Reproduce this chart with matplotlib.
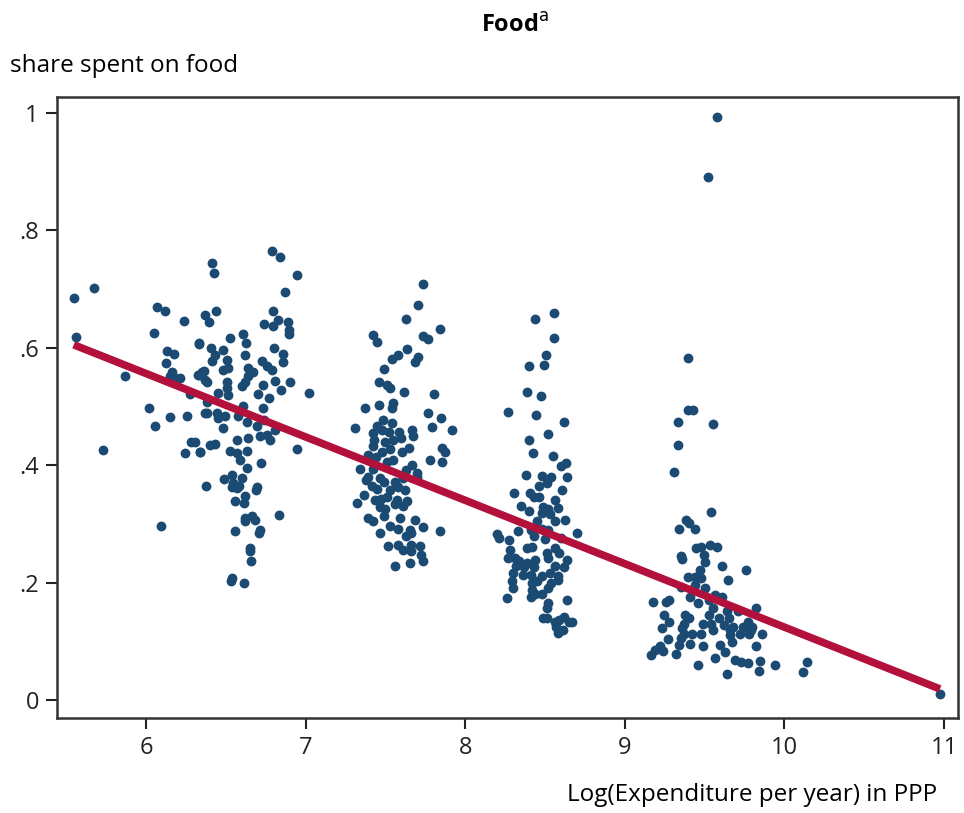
import numpy as np
import matplotlib.pyplot as plt

plt.rcParams['font.family'] = ['Open Sans', 'DejaVu Sans']

# household points, grouped by the four expenditure clusters: (log expenditure, food share)
group1 = [
    (5.547, 0.685), (5.676, 0.701), (5.563, 0.619), (6.069, 0.670), (6.117, 0.663),
    (6.240, 0.646), (6.050, 0.625), (6.330, 0.606), (6.132, 0.595), (6.174, 0.589),
    (6.127, 0.574), (6.163, 0.559), (6.152, 0.551), (6.184, 0.548), (6.215, 0.548),
    (5.867, 0.552), (6.330, 0.554), (6.361, 0.561), (6.370, 0.545), (6.278, 0.521),
    (6.019, 0.497), (6.152, 0.482), (6.257, 0.484), (6.056, 0.466), (6.372, 0.488),
    (6.282, 0.439), (6.246, 0.420), (6.340, 0.422), (5.731, 0.426), (6.096, 0.297),
    (6.378, 0.365),
    (6.792, 0.764), (6.840, 0.755), (6.412, 0.744), (6.428, 0.727), (6.948, 0.724),
    (6.871, 0.694), (6.439, 0.663), (6.370, 0.655), (6.395, 0.643), (6.798, 0.663),
    (6.741, 0.641), (6.798, 0.637), (6.829, 0.647), (6.888, 0.644), (6.898, 0.630),
    (6.898, 0.624), (6.610, 0.624), (6.625, 0.608), (6.526, 0.616), (6.332, 0.608),
    (6.407, 0.599), (6.485, 0.596), (6.432, 0.588), (6.620, 0.588), (6.802, 0.599),
    (6.860, 0.590), (6.860, 0.575), (6.725, 0.577), (6.756, 0.569), (6.788, 0.562),
    (6.505, 0.579), (6.516, 0.565), (6.485, 0.562), (6.412, 0.577), (6.353, 0.559),
    (6.324, 0.554), (6.380, 0.542), (6.641, 0.565), (6.672, 0.559), (6.641, 0.551),
    (6.620, 0.542), (6.599, 0.534), (6.505, 0.542), (6.505, 0.531), (6.453, 0.522),
    (6.516, 0.520), (6.735, 0.537), (6.808, 0.544), (6.902, 0.541), (6.846, 0.528),
    (6.771, 0.514), (6.700, 0.521), (7.021, 0.522), (6.380, 0.507), (6.380, 0.489),
    (6.443, 0.488), (6.495, 0.483), (6.450, 0.480), (6.610, 0.500), (6.578, 0.484),
    (6.631, 0.474), (6.694, 0.466), (6.735, 0.497), (6.740, 0.476), (6.485, 0.463),
    (6.568, 0.443), (6.641, 0.446), (6.714, 0.449), (6.756, 0.451), (6.777, 0.443),
    (6.810, 0.460), (6.401, 0.435), (6.430, 0.436), (6.338, 0.423), (6.307, 0.439),
    (6.526, 0.424), (6.568, 0.420), (6.631, 0.424), (6.589, 0.409), (6.631, 0.395),
    (6.721, 0.404), (6.944, 0.427), (6.491, 0.376), (6.537, 0.383), (6.547, 0.370),
    (6.568, 0.361), (6.599, 0.378), (6.580, 0.365), (6.540, 0.362), (6.694, 0.362),
    (6.690, 0.358), (6.620, 0.348), (6.558, 0.338), (6.616, 0.335), (6.620, 0.310),
    (6.666, 0.313), (6.620, 0.305), (6.680, 0.306), (6.833, 0.315), (6.558, 0.288),
    (6.714, 0.290), (6.710, 0.285), (6.652, 0.258), (6.652, 0.254), (6.658, 0.237),
    (6.533, 0.203), (6.540, 0.208), (6.616, 0.200),
]

group2 = [
    (7.738, 0.709), (7.706, 0.673), (7.627, 0.649), (7.842, 0.632), (7.424, 0.622),
    (7.449, 0.609), (7.734, 0.620), (7.765, 0.614), (7.633, 0.598), (7.577, 0.588),
    (7.540, 0.581), (7.706, 0.584), (7.685, 0.575), (7.491, 0.563), (7.462, 0.542),
    (7.508, 0.537), (7.529, 0.531), (7.617, 0.524), (7.806, 0.521), (7.372, 0.497),
    (7.462, 0.503), (7.546, 0.505), (7.540, 0.498), (7.769, 0.489), (7.848, 0.480),
    (7.309, 0.463), (7.487, 0.477), (7.540, 0.471), (7.445, 0.466), (7.480, 0.460),
    (7.520, 0.457), (7.587, 0.457), (7.665, 0.460), (7.670, 0.450), (7.790, 0.465),
    (7.919, 0.460), (7.424, 0.454), (7.430, 0.443), (7.497, 0.440), (7.550, 0.443),
    (7.600, 0.446), (7.424, 0.432), (7.477, 0.423), (7.530, 0.428), (7.602, 0.422),
    (7.650, 0.429), (7.853, 0.429), (7.873, 0.422), (7.393, 0.417), (7.440, 0.414),
    (7.550, 0.409), (7.510, 0.406), (7.779, 0.408), (7.857, 0.405), (7.341, 0.394),
    (7.420, 0.394), (7.665, 0.400), (7.630, 0.392), (7.696, 0.386), (7.393, 0.380),
    (7.380, 0.375), (7.466, 0.378), (7.490, 0.372), (7.560, 0.372), (7.612, 0.378),
    (7.700, 0.380), (7.414, 0.365), (7.450, 0.359), (7.529, 0.358), (7.580, 0.362),
    (7.620, 0.357), (7.366, 0.349), (7.435, 0.341), (7.470, 0.343), (7.510, 0.346),
    (7.570, 0.341), (7.633, 0.338), (7.324, 0.335), (7.466, 0.329), (7.500, 0.325),
    (7.560, 0.333), (7.610, 0.330), (7.393, 0.310), (7.420, 0.304), (7.490, 0.313),
    (7.591, 0.310), (7.685, 0.307), (7.738, 0.294), (7.842, 0.287), (7.466, 0.284),
    (7.530, 0.297), (7.580, 0.292), (7.654, 0.290), (7.660, 0.285), (7.630, 0.279),
    (7.518, 0.262), (7.580, 0.264), (7.610, 0.256), (7.660, 0.264), (7.717, 0.262),
    (7.720, 0.247), (7.660, 0.253), (7.560, 0.228), (7.654, 0.234), (7.738, 0.236),
]

group3 = [
    (8.558, 0.659), (8.437, 0.648), (8.556, 0.616), (8.506, 0.588), (8.402, 0.568),
    (8.494, 0.570), (8.385, 0.525), (8.475, 0.517), (8.270, 0.490), (8.444, 0.486),
    (8.619, 0.474), (8.517, 0.453), (8.400, 0.442), (8.427, 0.420), (8.548, 0.415),
    (8.630, 0.403), (8.600, 0.399), (8.379, 0.383), (8.483, 0.382), (8.540, 0.380),
    (8.636, 0.380), (8.511, 0.369), (8.460, 0.364), (8.605, 0.358), (8.306, 0.353),
    (8.406, 0.352), (8.430, 0.346), (8.460, 0.345), (8.348, 0.330), (8.489, 0.329),
    (8.563, 0.341), (8.580, 0.327), (8.520, 0.325), (8.400, 0.321), (8.480, 0.318),
    (8.530, 0.316), (8.448, 0.304), (8.560, 0.304), (8.625, 0.306), (8.329, 0.288),
    (8.410, 0.289), (8.480, 0.292), (8.520, 0.289), (8.201, 0.283), (8.210, 0.275),
    (8.274, 0.273), (8.430, 0.279), (8.500, 0.274), (8.699, 0.284), (8.600, 0.275),
    (8.281, 0.256), (8.390, 0.258), (8.420, 0.260), (8.560, 0.258), (8.590, 0.250),
    (8.510, 0.250), (8.266, 0.241), (8.310, 0.241), (8.340, 0.236), (8.390, 0.234),
    (8.440, 0.239), (8.520, 0.241), (8.636, 0.239), (8.320, 0.228), (8.370, 0.226),
    (8.430, 0.226), (8.560, 0.228), (8.620, 0.226), (8.301, 0.216), (8.360, 0.213),
    (8.410, 0.213), (8.480, 0.211), (8.530, 0.216), (8.580, 0.211), (8.291, 0.202),
    (8.420, 0.199), (8.450, 0.202), (8.540, 0.199), (8.580, 0.205), (8.300, 0.190),
    (8.417, 0.187), (8.440, 0.181), (8.480, 0.181), (8.520, 0.190), (8.260, 0.173),
    (8.410, 0.176), (8.636, 0.170), (8.521, 0.165), (8.510, 0.156), (8.489, 0.139),
    (8.510, 0.139), (8.563, 0.133), (8.590, 0.136), (8.620, 0.141), (8.667, 0.133),
    (8.570, 0.125), (8.610, 0.119), (8.580, 0.114), (8.650, 0.133),
]

group4 = [
    (9.394, 0.582), (9.398, 0.493), (9.429, 0.493), (9.335, 0.474), (9.551, 0.470),
    (9.331, 0.434), (9.306, 0.388), (9.540, 0.320), (9.383, 0.306), (9.400, 0.302),
    (9.341, 0.291), (9.440, 0.291), (9.446, 0.258), (9.480, 0.260), (9.534, 0.264),
    (9.576, 0.260), (9.498, 0.247), (9.352, 0.245), (9.360, 0.240), (9.500, 0.235),
    (9.611, 0.228), (9.759, 0.221), (9.471, 0.221), (9.649, 0.204), (9.398, 0.210),
    (9.440, 0.210), (9.480, 0.207), (9.440, 0.196), (9.500, 0.190), (9.350, 0.193),
    (9.409, 0.176), (9.565, 0.179), (9.610, 0.175), (9.530, 0.171), (9.457, 0.165),
    (9.179, 0.166), (9.260, 0.167), (9.280, 0.171), (9.822, 0.156), (9.550, 0.156),
    (9.640, 0.151), (9.710, 0.151), (9.246, 0.145), (9.377, 0.145), (9.400, 0.139),
    (9.530, 0.145), (9.590, 0.140), (9.650, 0.140), (9.774, 0.133), (9.800, 0.125),
    (9.279, 0.132), (9.370, 0.130), (9.490, 0.130), (9.540, 0.130), (9.620, 0.128),
    (9.680, 0.125), (9.740, 0.125), (9.231, 0.122), (9.360, 0.122), (9.550, 0.119),
    (9.660, 0.119), (9.790, 0.119), (9.858, 0.112), (9.419, 0.113), (9.480, 0.113),
    (9.370, 0.113), (9.660, 0.110), (9.720, 0.113), (9.780, 0.113), (9.273, 0.103),
    (9.350, 0.105), (9.670, 0.099), (9.409, 0.095), (9.597, 0.094), (9.822, 0.092),
    (9.221, 0.092), (9.340, 0.094), (9.490, 0.092), (9.190, 0.085), (9.240, 0.084),
    (9.320, 0.078), (9.164, 0.077), (9.628, 0.081), (9.565, 0.071), (9.690, 0.068),
    (9.730, 0.065), (9.770, 0.063), (9.847, 0.067), (9.941, 0.060), (9.457, 0.060),
    (9.841, 0.049), (9.642, 0.044), (10.143, 0.065), (10.119, 0.047),
]

outliers = [(9.578, 0.993), (9.521, 0.891), (10.975, 0.010)]

# fitted line
fit_intercept = 1.204
fit_slope = -0.108

y_ticks = [0, 0.2, 0.4, 0.6, 0.8, 1.0]
y_tick_labels = ['0', '.2', '.4', '.6', '.8', '1']
x_ticks = [6, 7, 8, 9, 10, 11]

pts = np.array(group1 + group2 + group3 + group4 + outliers)
x, y = pts[:, 0], pts[:, 1]

fig = plt.figure(figsize=(9.64, 8.13), dpi=100)
ax = fig.add_axes([0.0591, 0.1169, 0.9347, 0.7638])

ax.scatter(x, y, s=50, color='#1b4a72', linewidths=0, zorder=2)

xf = np.array([x.min(), x.max()])
ax.plot(xf, fit_intercept + fit_slope * xf, color='#b3103b', lw=5.5,
        solid_capstyle='butt', zorder=3)

ax.set_xlim(5.442, 11.088)
ax.set_ylim(-0.0307, 1.027)
ax.set_xticks(x_ticks)
ax.set_yticks(y_ticks)
ax.set_yticklabels(y_tick_labels)
ax.tick_params(direction='out', length=8, width=1.5, colors='#222222',
               labelsize=17, pad=5)
for s in ax.spines.values():
    s.set_linewidth(1.8)
    s.set_color('#333333')

fig.text(0.534, 0.968, 'Food$^{\\mathrm{a}}$', ha='center', va='center',
         fontsize=17, fontweight='bold')
fig.text(0.010, 0.919, 'share spent on food', ha='left', va='center', fontsize=17.5)
fig.text(0.972, 0.022, 'Log(Expenditure per year) in PPP', ha='right', va='center',
         fontsize=17.5)

fig.savefig('out.png', dpi=100)
